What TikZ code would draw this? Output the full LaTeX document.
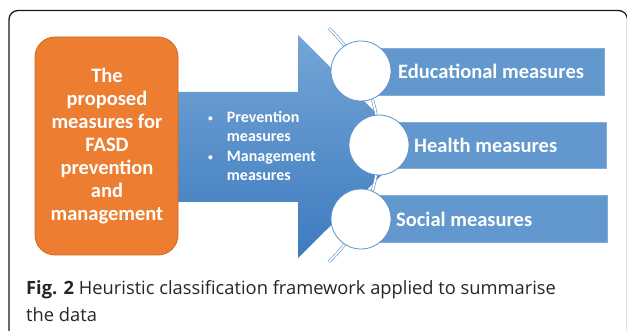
\documentclass[tikz,border=0pt]{standalone}
\usepackage{fontspec}
\usepackage{graphicx}
\setmainfont{Carlito}
\newfontfamily\capfont{Open Sans}
\begin{document}
\begin{tikzpicture}[x=1pt,y=-1pt,
  framestyle/.style={draw=black!90, line width=1.3pt, rounded corners=9pt},
  orangebox/.style={fill=orangeA, draw=orangeB, line width=0.8pt, rounded corners=20pt},
  barbox/.style={fill=barblue, draw=barblue!80!white, line width=0.5pt},
  ringnode/.style={circle, fill=white, draw=ringblue, line width=0.8pt, minimum size=60pt, inner sep=0pt},
  bartext/.style={font=\fontsize{20.5}{24}\selectfont\bfseries, text=white, anchor=west, inner sep=0pt},
  linkarc/.style={draw=ringblue, line width=0.6pt, double=white, double distance=1.8pt}
]
\definecolor{orangeA}{HTML}{ED7D31}
\definecolor{orangeB}{HTML}{D0671F}
\definecolor{barblue}{HTML}{6298CE}
\definecolor{ringblue}{HTML}{5B93CC}
\definecolor{arrowtop}{HTML}{74A5D6}
\definecolor{arrowbot}{HTML}{3E7BBF}
\useasboundingbox (0,0) rectangle (627,331);
\fill[white] (0,0) rectangle (627,331);
\begin{scope}
\clip (0,0) rectangle (627,331);
\draw[framestyle] (9,10.5) rectangle (627.5,400);
\end{scope}
% arrow
\shade[top color=arrowtop, bottom color=arrowbot]
  (170,92) -- (298,92) -- (298,35) -- (410,147) -- (298,258) -- (298,202) -- (170,202) -- cycle;
% bars
\path[barbox] (361,48) rectangle (604,95);
\path[barbox] (379,122) rectangle (606,168);
\path[barbox] (361,195) rectangle (607,242);
% arc
\draw[linkarc] plot[domain=-46.5:46.5, samples=60] ({218+161*cos(\x)},{145+161*sin(\x)});
% circles
\node[ringnode] (c1) at (361,71) {};
\node[ringnode] (c2) at (379,145) {};
\node[ringnode] (c3) at (361,219) {};
% orange box
\path[orangebox] (35,37) rectangle (178,255);
\node[font=\fontsize{20.5}{23}\selectfont\bfseries, text=white, align=center, inner sep=0pt] (main) at (107,146)
  {The\\proposed\\measures for\\FASD\\prevention\\and\\management};
% bullets
\node[font=\fontsize{16}{19.5}\selectfont\bfseries, text=white, anchor=west, inner sep=0pt] (bul) at (208,147.5)
  {\begin{tabular}{@{}l@{\hspace{14pt}}l@{}}\raisebox{1pt}{\scalebox{0.6}{\textbullet}} & Prevention\\ & measures\\ \raisebox{1pt}{\scalebox{0.6}{\textbullet}} & Management\\ & measures\end{tabular}};
% bar texts
\node[bartext] (t1) at (398,71) {Educational measures};
\node[bartext] (t2) at (414,145) {Health measures};
\node[bartext] (t3) at (396,219) {Social measures};
% caption
\node[font=\capfont\fontsize{18.3}{27}\selectfont, text=black!85, anchor=base west, align=left, inner sep=0pt] (cap) at (26,322)
  {\textbf{Fig. 2} Heuristic classification framework applied to summarise\\the data};
\end{tikzpicture}
\end{document}
